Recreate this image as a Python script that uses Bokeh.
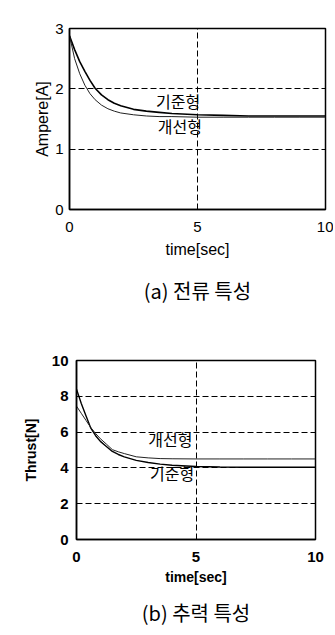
from bokeh.plotting import figure
from bokeh.models import Title, Range1d, FixedTicker, Label
from bokeh.embed import file_html
from bokeh.resources import INLINE

# ---- data ----
time_s = [0, 0.2, 0.4, 0.6, 0.8, 1.0, 1.25, 1.5, 1.75, 2.0, 2.5, 3.0, 3.5, 4.0,
          5.0, 6.0, 7.0, 8.0, 9.0, 10.0]
# (a) current [A]
current_base = [2.88, 2.65, 2.45, 2.29, 2.14, 2.01, 1.90, 1.82, 1.76, 1.72, 1.66,
                1.63, 1.61, 1.59, 1.57, 1.56, 1.55, 1.55, 1.55, 1.55]
current_impr = [2.88, 2.50, 2.25, 2.06, 1.92, 1.82, 1.73, 1.67, 1.63, 1.60, 1.57,
                1.55, 1.54, 1.54, 1.53, 1.53, 1.53, 1.53, 1.53, 1.53]
# (b) thrust [N]
thrust_base = [8.40, 7.60, 6.90, 6.22, 5.80, 5.48, 5.20, 4.92, 4.75, 4.62, 4.42,
               4.30, 4.21, 4.15, 4.08, 4.05, 4.04, 4.04, 4.04, 4.04]
thrust_impr = [7.45, 7.05, 6.65, 6.25, 5.92, 5.63, 5.33, 5.02, 4.90, 4.80, 4.62,
               4.56, 4.52, 4.51, 4.50, 4.50, 4.50, 4.50, 4.50, 4.50]

x_ticks = [0, 5, 10]
y_ticks_a = [0, 1, 2, 3]
y_ticks_b = [0, 2, 4, 6, 8, 10]

label_base = "기준형"
label_impr = "개선형"
caption_a = "(a) 전류 특성"
caption_b = "(b) 추력 특성"
xlabel = "time[sec]"
ylabel_a = "Ampere[A]"
ylabel_b = "Thrust[N]"

KFONT = "Noto Sans CJK KR"
AFONT = "Liberation Sans"


def style(p, xt, yt, tick_size, label_size, weight, lstand_x, lstand_y, tstand_x, tstand_y):
    p.outline_line_color = "black"
    p.outline_line_width = 1.5
    p.background_fill_color = "white"
    p.border_fill_color = "white"
    p.xaxis.ticker = FixedTicker(ticks=xt)
    p.yaxis.ticker = FixedTicker(ticks=yt)
    p.xgrid.ticker = FixedTicker(ticks=xt)
    p.ygrid.ticker = FixedTicker(ticks=yt)
    for g in (p.xgrid, p.ygrid):
        g.grid_line_color = "black"
        g.grid_line_dash = "6 3"
        g.grid_line_width = 1
        g.grid_line_alpha = 1.0
    for ax in (p.xaxis, p.yaxis):
        ax.axis_line_color = "black"
        ax.axis_line_width = 1.5
        ax.major_tick_in = 0
        ax.major_tick_out = 0
        ax.minor_tick_line_color = None
        ax.major_label_text_font = AFONT
        ax.major_label_text_font_size = tick_size
        ax.major_label_text_color = "black"
        ax.axis_label_text_font = AFONT
        ax.axis_label_text_font_size = label_size
        ax.axis_label_text_font_style = weight
        ax.axis_label_text_color = "black"
    p.xaxis.major_label_standoff = tstand_x
    p.yaxis.major_label_standoff = tstand_y
    p.xaxis.axis_label_standoff = lstand_x
    p.yaxis.axis_label_standoff = lstand_y


# ---- (a) current ----
pa = figure(output_backend="svg", toolbar_location=None,
            frame_width=256, frame_height=181,
            min_border_left=69, min_border_right=8, min_border_top=28, min_border_bottom=99,
            x_range=Range1d(0, 10), y_range=Range1d(0, 3))
pa.line(time_s, current_base, line_color="black", line_width=1.6)
pa.line(time_s, current_impr, line_color="#222222", line_width=1.0)
pa.xaxis.axis_label = xlabel
pa.yaxis.axis_label = ylabel_a
style(pa, x_ticks, y_ticks_a, "15px", "16px", "normal", 6, 1, 12, 6)
pa.add_layout(Label(x=3.38, y=1.8, text=label_base, text_font=KFONT,
                    text_font_size="16px", text_baseline="middle", text_color="black"))
pa.add_layout(Label(x=3.45, y=1.38, text=label_impr, text_font=KFONT,
                    text_font_size="16px", text_baseline="middle", text_color="black"))
pa.add_layout(Title(text=caption_a, align="center", text_font=KFONT,
                    text_font_size="20px", text_font_style="normal",
                    text_color="black", standoff=27), "below")

# ---- (b) thrust ----
pb = figure(output_backend="svg", toolbar_location=None,
            frame_width=239, frame_height=179,
            min_border_left=76, min_border_right=12, min_border_top=42, min_border_bottom=80,
            x_range=Range1d(0, 10), y_range=Range1d(0, 10))
pb.line(time_s, thrust_base, line_color="black", line_width=1.4)
pb.line(time_s, thrust_impr, line_color="#222222", line_width=1.0)
pb.xaxis.axis_label = xlabel
pb.yaxis.axis_label = ylabel_b
style(pb, x_ticks, y_ticks_b, "15px", "14px", "bold", 4, 10, 12, 8)
pb.xaxis.major_label_text_font_style = "bold"
pb.yaxis.major_label_text_font_style = "bold"
pb.add_layout(Label(x=3.0, y=5.64, text=label_impr, text_font=KFONT,
                    text_font_size="16px", text_baseline="middle", text_color="black"))
pb.add_layout(Label(x=3.08, y=3.7, text=label_base, text_font=KFONT,
                    text_font_size="16px", text_baseline="middle", text_color="black"))
pb.add_layout(Title(text=caption_b, align="center", text_font=KFONT,
                    text_font_size="20px", text_font_style="normal",
                    text_color="black", standoff=16), "below")

open("out.html", "w").write(file_html([pa, pb], INLINE))
